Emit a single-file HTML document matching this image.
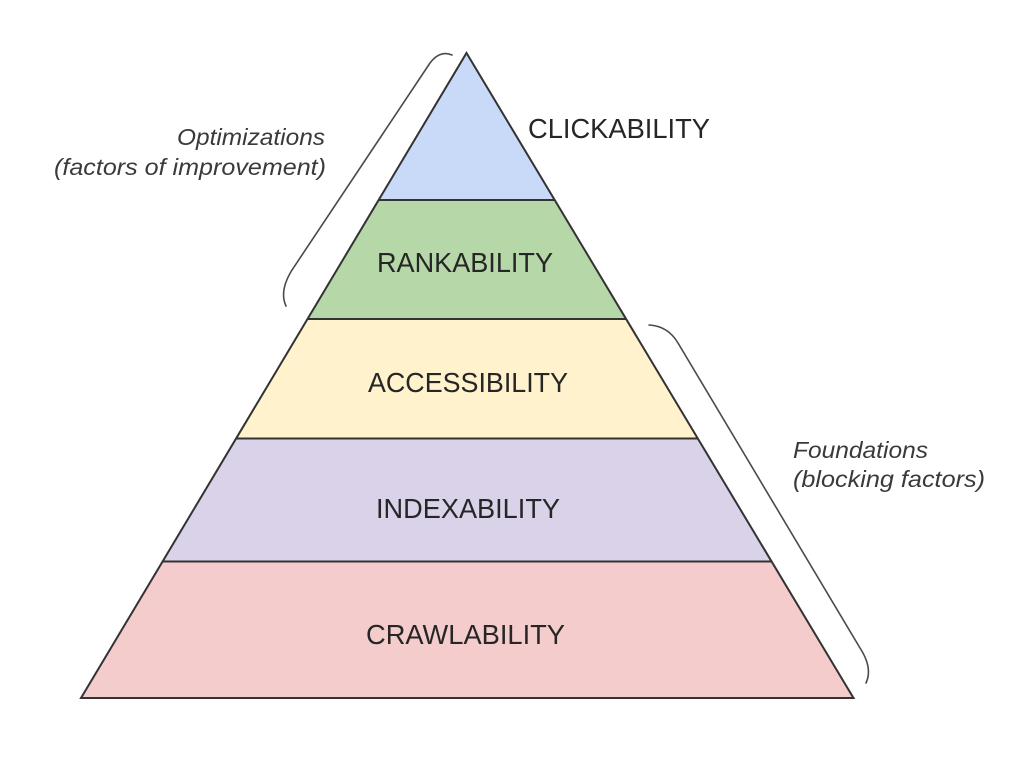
<!DOCTYPE html>
<html>
<head>
<meta charset="utf-8">
<style>
html,body{margin:0;padding:0;background:#fff;}
svg{display:block;}
text{font-family:"Liberation Sans",Arial,sans-serif;}
</style>
</head>
<body>
<svg width="1024" height="761" viewBox="0 0 1024 761" xmlns="http://www.w3.org/2000/svg">
  <rect width="1024" height="761" fill="#ffffff"/>
  <!-- bands -->
  <polygon points="466.5,53 378.6,200 554.7,200" fill="#c9daf8"/>
  <polygon points="378.6,200 554.7,200 626.1,319 307.5,319" fill="#b6d7a8"/>
  <polygon points="307.5,319 626.1,319 697.8,438.5 236.1,438.5" fill="#fff2cc"/>
  <polygon points="236.1,438.5 697.8,438.5 771.6,561.5 162.6,561.5" fill="#d9d2e9"/>
  <polygon points="162.6,561.5 771.6,561.5 853.5,698 81,698" fill="#f4cccc"/>
  <!-- band lines -->
  <g stroke="#333" stroke-width="2" fill="none" stroke-linejoin="miter">
    <line x1="378.6" y1="200" x2="554.7" y2="200"/>
    <line x1="307.5" y1="319" x2="626.1" y2="319"/>
    <line x1="236.1" y1="438.5" x2="697.8" y2="438.5"/>
    <line x1="162.6" y1="561.5" x2="771.6" y2="561.5"/>
    <polygon points="466.5,53 853.5,698 81,698"/>
  </g>
  <!-- brackets -->
  <g stroke="#4a4a4a" stroke-width="1.6" fill="none" stroke-linecap="round">
    <path d="M452,55 Q440,50 430,63 L292,270 Q279,291 286,306"/>
    <path d="M649,325 Q668,326 678,343 L860,648 Q873,668 866,683"/>
  </g>
  <!-- labels -->
  <g fill="#262626" font-size="28">
    <text x="528" y="138" textLength="182" lengthAdjust="spacingAndGlyphs">CLICKABILITY</text>
    <text x="377" y="272" textLength="176" lengthAdjust="spacingAndGlyphs">RANKABILITY</text>
    <text x="368" y="392" textLength="200" lengthAdjust="spacingAndGlyphs">ACCESSIBILITY</text>
    <text x="376" y="518" textLength="184" lengthAdjust="spacingAndGlyphs">INDEXABILITY</text>
    <text x="366" y="644" textLength="199" lengthAdjust="spacingAndGlyphs">CRAWLABILITY</text>
  </g>
  <g fill="#3a3a3a" font-size="23" font-style="italic">
    <text x="177" y="145" textLength="148" lengthAdjust="spacingAndGlyphs">Optimizations</text>
    <text x="54" y="175" textLength="272" lengthAdjust="spacingAndGlyphs">(factors of improvement)</text>
    <text x="793" y="458" textLength="135" lengthAdjust="spacingAndGlyphs">Foundations</text>
    <text x="793" y="487" textLength="192" lengthAdjust="spacingAndGlyphs">(blocking factors)</text>
  </g>
</svg>
</body>
</html>
